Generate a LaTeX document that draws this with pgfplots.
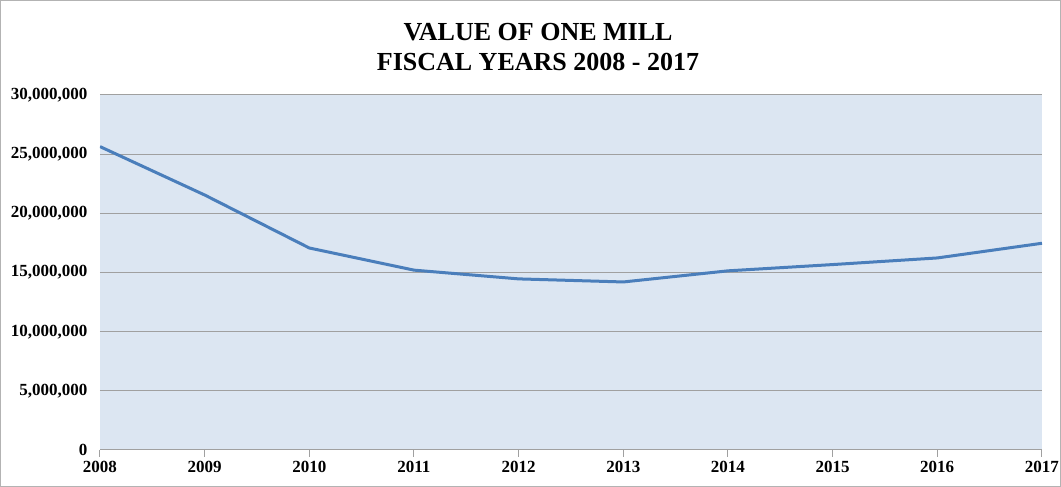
\documentclass[border=0pt]{standalone}
\usepackage{fontspec}
\setmainfont{Liberation Serif}
\usepackage{pgfplots}
\pgfplotsset{compat=1.18}
\definecolor{plotbg}{HTML}{DCE6F2}
\definecolor{lineblue}{HTML}{4A7EBB}
\definecolor{gridgray}{HTML}{A0A0A0}
\begin{document}
\begin{tikzpicture}[x=1pt,y=1pt]
\begin{axis}[
    at={(100pt,37pt)}, anchor=south west,
    scale only axis,
    width=942pt, height=355pt,
    xmin=2008, xmax=2017,
    ymin=0, ymax=30000000,
    xtick={2008,...,2017},
    ytick={0,5000000,...,30000000},
    scaled y ticks=false,
    axis background/.style={fill=plotbg},
    axis x line*=bottom, axis y line*=left,
    x axis line style={draw=gridgray, line width=1pt},
    y axis line style={draw=none},
    xtick style={draw=gridgray, line width=1pt},
    ytick style={draw=none},
    tick align=outside, major tick length=7pt,
    ymajorgrids, grid style={gridgray, line width=1pt},
    /pgf/number format/assume math mode=true,
    ticklabel style={font=\fontsize{17}{19}\selectfont\bfseries},
    yticklabel style={/pgf/number format/fixed, /pgf/number format/1000 sep={,}, xshift=-2pt},
    xticklabel style={/pgf/number format/1000 sep={}, yshift=-1pt},
]
\addplot[lineblue, line width=3pt, line join=round] coordinates {
    (2008,25640000) (2009,21550000) (2010,17070000) (2011,15200000)
    (2012,14460000) (2013,14200000) (2014,15140000) (2015,15670000)
    (2016,16230000) (2017,17470000)
};
\end{axis}
\node[align=center, font=\fontsize{26}{30}\selectfont\bfseries] at (538pt,440pt)
    {VALUE OF ONE MILL\\FISCAL YEARS 2008 - 2017};
\draw[gridgray!80, line width=1pt] (0.5pt,0.5pt) rectangle (1060.5pt,486.5pt);
\pgfresetboundingbox
\useasboundingbox (0,0) rectangle (1061pt,487pt);
\end{tikzpicture}
\end{document}
